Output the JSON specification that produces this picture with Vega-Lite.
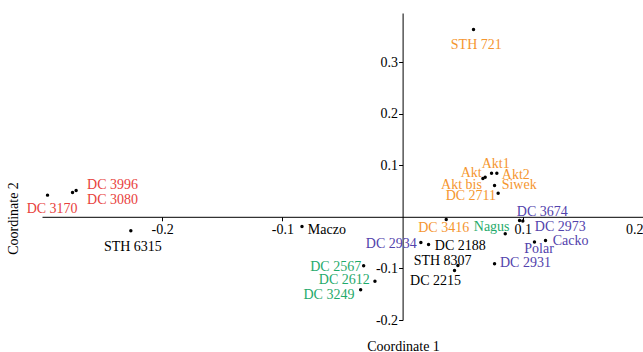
{
  "$schema": "https://vega.github.io/schema/vega-lite/v6.json",
  "width": 601,
  "height": 307,
  "autosize": {"type": "none"},
  "padding": {"left": 42, "top": 13, "right": 0, "bottom": 32},
  "background": "white",
  "config": {
    "view": {"stroke": null},
    "font": "Liberation Serif",
    "axis": {
      "grid": false,
      "domainColor": "black", "tickColor": "black", "labelColor": "black", "titleColor": "black",
      "domainWidth": 1, "tickWidth": 1,
      "labelFont": "Liberation Serif", "titleFont": "Liberation Serif",
      "labelFontSize": 14, "titleFontSize": 14, "titleFontWeight": "normal",
      "tickSize": 4, "labelOverlap": false
    }
  },
  "data": {
    "values": [
      {"name": "DC 3996", "group": "A", "x": -0.2716, "y": 0.0509, "lx": -0.2413, "ly": 0.0536},
      {"name": "DC 3080", "group": "A", "x": -0.2746, "y": 0.047, "lx": -0.2413, "ly": 0.0246},
      {"name": "DC 3170", "group": "A", "x": -0.2954, "y": 0.042, "lx": -0.2916, "ly": 0.0072},
      {"name": "STH 721", "group": "B", "x": 0.059, "y": 0.363, "lx": 0.0613, "ly": 0.325},
      {"name": "Akt1", "group": "B", "x": 0.074, "y": 0.0845, "lx": 0.0775, "ly": 0.0942},
      {"name": "Akt", "group": "B", "x": 0.0687, "y": 0.0768, "lx": 0.0571, "ly": 0.0779},
      {"name": "Akt2", "group": "B", "x": 0.0784, "y": 0.0845, "lx": 0.0942, "ly": 0.0729},
      {"name": "Akt bis", "group": "B", "x": 0.0668, "y": 0.0741, "lx": 0.049, "ly": 0.0542},
      {"name": "Siwek", "group": "B", "x": 0.0765, "y": 0.0605, "lx": 0.097, "ly": 0.0542},
      {"name": "DC 2711", "group": "B", "x": 0.0795, "y": 0.0458, "lx": 0.0568, "ly": 0.0329},
      {"name": "DC 3416", "group": "B", "x": 0.0363, "y": -0.0052, "lx": 0.0342, "ly": -0.0304},
      {"name": "Nagus", "group": "C", "x": 0.0854, "y": -0.0329, "lx": 0.0741, "ly": -0.0284},
      {"name": "DC 2567", "group": "C", "x": -0.0324, "y": -0.0948, "lx": -0.0557, "ly": -0.1044},
      {"name": "DC 2612", "group": "C", "x": -0.023, "y": -0.1251, "lx": -0.0485, "ly": -0.1296},
      {"name": "DC 3249", "group": "C", "x": -0.0349, "y": -0.1412, "lx": -0.0613, "ly": -0.1592},
      {"name": "DC 3674", "group": "D", "x": 0.0973, "y": -0.0072, "lx": 0.1162, "ly": 0.0025},
      {"name": "DC 2973", "group": "D", "x": 0.1, "y": -0.0083, "lx": 0.1312, "ly": -0.0271},
      {"name": "Cacko", "group": "D", "x": 0.1189, "y": -0.0458, "lx": 0.1397, "ly": -0.0555},
      {"name": "Polar", "group": "D", "x": 0.1097, "y": -0.049, "lx": 0.1135, "ly": -0.0702},
      {"name": "DC 2934", "group": "D", "x": 0.0152, "y": -0.0497, "lx": -0.0094, "ly": -0.0605},
      {"name": "DC 2931", "group": "D", "x": 0.0765, "y": -0.0909, "lx": 0.1022, "ly": -0.0973},
      {"name": "Maczo", "group": "E", "x": -0.0837, "y": -0.0188, "lx": -0.063, "ly": -0.0329},
      {"name": "STH 6315", "group": "E", "x": -0.2261, "y": -0.0271, "lx": -0.2244, "ly": -0.0671},
      {"name": "DC 2188", "group": "E", "x": 0.0216, "y": -0.0536, "lx": 0.048, "ly": -0.0638},
      {"name": "STH 8307", "group": "E", "x": 0.046, "y": -0.0942, "lx": 0.0333, "ly": -0.0928},
      {"name": "DC 2215", "group": "E", "x": 0.0432, "y": -0.1039, "lx": 0.0274, "ly": -0.1315}
    ]
  },
  "layer": [
    {
      "mark": {"type": "circle", "size": 12, "color": "black", "opacity": 1},
      "encoding": {
        "x": {
          "field": "x", "type": "quantitative",
          "scale": {"domain": [-0.3, 0.2], "nice": false, "zero": false},
          "axis": {
            "title": "Coordinate 1", "values": [-0.2, -0.1, 0.1, 0.2],
            "labelExpr": "toString(datum.value)",
            "offset": -103.2, "labelPadding": 2, "labelFlush": true,
            "titleX": 361, "titleY": 134, "titleBaseline": "alphabetic", "titleAlign": "center"
          }
        },
        "y": {
          "field": "y", "type": "quantitative",
          "scale": {"domain": [-0.2, 0.395], "nice": false, "zero": false},
          "axis": {
            "title": "Coordinate 2", "values": [-0.2, -0.1, 0.1, 0.2, 0.3],
            "labelExpr": "toString(datum.value)",
            "offset": -360.6, "labelPadding": 1,
            "titleX": -385, "titleY": 205, "titleAngle": -90, "titleBaseline": "alphabetic", "titleAlign": "center"
          }
        }
      }
    },
    {
      "mark": {"type": "text", "fontSize": 14, "font": "Liberation Serif", "align": "center", "baseline": "alphabetic"},
      "encoding": {
        "x": {
          "field": "lx", "type": "quantitative",
          "axis": {
            "title": "Coordinate 1", "values": [-0.2, -0.1, 0.1, 0.2],
            "labelExpr": "toString(datum.value)",
            "offset": -103.2, "labelPadding": 2, "labelFlush": true,
            "titleX": 361, "titleY": 134, "titleBaseline": "alphabetic", "titleAlign": "center"
          }
        },
        "y": {
          "field": "ly", "type": "quantitative",
          "axis": {
            "title": "Coordinate 2", "values": [-0.2, -0.1, 0.1, 0.2, 0.3],
            "labelExpr": "toString(datum.value)",
            "offset": -360.6, "labelPadding": 1,
            "titleX": -385, "titleY": 205, "titleAngle": -90, "titleBaseline": "alphabetic", "titleAlign": "center"
          }
        },
        "text": {"field": "name"},
        "color": {
          "field": "group", "type": "nominal", "legend": null,
          "scale": {"domain": ["A", "B", "C", "D", "E"], "range": ["#E8413C", "#F5962F", "#1FAA6B", "#5242AC", "#000000"]}
        }
      }
    }
  ]
}
